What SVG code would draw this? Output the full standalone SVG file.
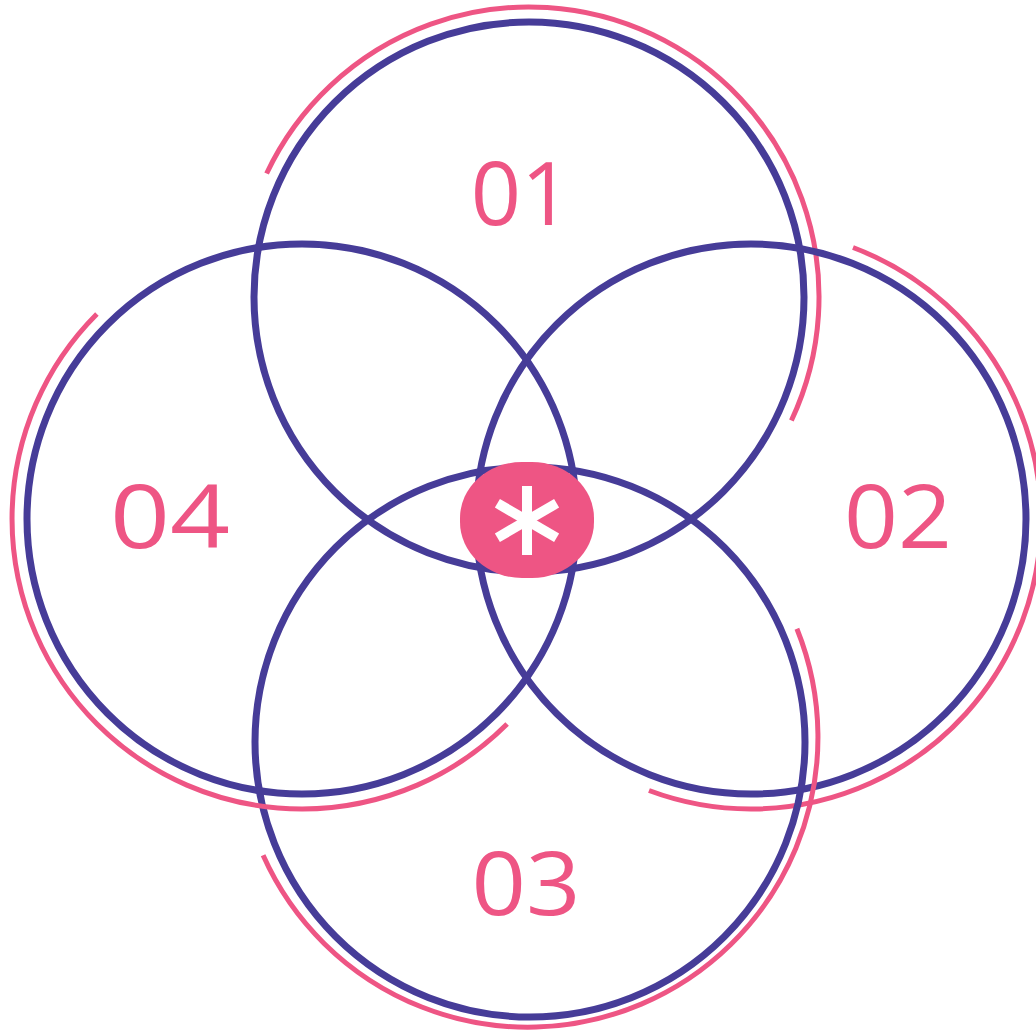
<svg xmlns="http://www.w3.org/2000/svg" width="1036" height="1034" viewBox="0 0 1036 1034">
  <style>
    .ring { fill: none; stroke: #463C98; stroke-width: 7; }
    .arc { fill: none; stroke: #EE5584; stroke-width: 5; }
    .label { fill: #EE5584; font-family: "Open Sans", "Noto Sans", sans-serif; font-size: 88px; font-weight: 400; text-anchor: middle; }
    .star { stroke: #FFFFFF; stroke-width: 10; stroke-linecap: butt; }
  </style>
  <rect width="1036" height="1034" fill="#FFFFFF"/>
  <g id="node-01">
    <circle class="ring" cx="529" cy="297" r="275"/>
    <path class="arc" d="M266.6,173.5 A290,290 0 0 1 791.4,420.5"/>
    <text class="label" x="521" y="225">01</text>
  </g>
  <g id="node-02">
    <circle class="ring" cx="751" cy="519" r="275"/>
    <path class="arc" d="M853,247.5 A290,290 0 0 1 649,790.5"/>
    <text class="label" x="898" y="548" textLength="108" lengthAdjust="spacingAndGlyphs">02</text>
  </g>
  <g id="node-03">
    <circle class="ring" cx="530" cy="742" r="275"/>
    <path class="arc" d="M796.9,628.7 A290,290 0 0 1 263.1,855.3"/>
    <text class="label" x="526" y="915" textLength="109" lengthAdjust="spacingAndGlyphs">03</text>
  </g>
  <g id="node-04">
    <circle class="ring" cx="302" cy="519" r="275"/>
    <path class="arc" d="M507.1,724.1 A290,290 0 0 1 96.9,313.9"/>
    <text class="label" x="170" y="548" textLength="120" lengthAdjust="spacingAndGlyphs">04</text>
  </g>
  <g id="center">
    <rect x="460" y="462" width="134" height="116" rx="62" ry="56" fill="#EE5584"/>
    <line class="star" x1="527" y1="486" x2="527" y2="555"/>
    <line class="star" x1="497.4" y1="503.3" x2="556.6" y2="537.7"/>
    <line class="star" x1="497.4" y1="537.7" x2="556.6" y2="503.3"/>
  </g>
  <g id="connectors"></g>
</svg>
